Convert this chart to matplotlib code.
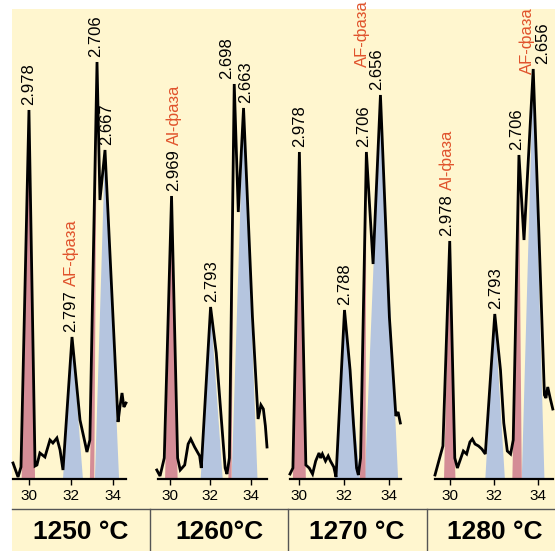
import matplotlib
matplotlib.use("Agg")
import matplotlib.pyplot as plt
from matplotlib.patches import Rectangle

# XRD fragments (2theta, intensity in arbitrary units)
temps = ["1250 °C", "1260°C", "1270 °C", "1280 °C"]

x1250 = [29.24, 29.48, 29.62, 30.00, 30.29, 30.38, 30.52, 30.76, 31.00, 31.14, 31.33, 31.48,
         31.62, 32.05, 32.43, 32.67, 32.76, 32.90, 33.24, 33.38, 33.62, 34.24, 34.33, 34.43,
         34.52, 34.62]
i1250 = [16, 2, 12, 369, 13, 14, 26, 22, 39, 36, 41, 29,
         9, 142, 59, 36, 27, 39, 417, 279, 329, 57, 72, 86,
         72, 76]

x1260 = [29.35, 29.51, 29.72, 30.08, 30.38, 30.51, 30.73, 30.90, 31.03, 31.22, 31.47, 31.55,
         32.01, 32.29, 32.53, 32.73, 32.82, 32.94, 33.18, 33.38, 33.64, 34.08, 34.36, 34.50,
         34.62, 34.72, 34.80]
i1260 = [9, 3, 21, 283, 21, 9, 14, 35, 40, 32, 23, 11,
         172, 126, 63, 11, 5, 21, 395, 267, 371, 162, 60, 74,
         70, 53, 32]

x1270 = [29.58, 29.71, 30.00, 30.29, 30.44, 30.59, 30.73, 30.88, 30.95, 31.03, 31.17, 31.29,
         31.39, 31.54, 31.64, 32.02, 32.27, 32.42, 32.56, 32.64, 32.74, 33.00, 33.30, 33.63,
         34.03, 34.32, 34.42, 34.52]
i1270 = [5, 11, 327, 14, 11, 5, 18, 26, 21, 25, 18, 23,
         18, 12, 2, 169, 109, 56, 11, 4, 21, 327, 215, 384,
         162, 63, 67, 56]

x1280 = [29.33, 29.54, 29.69, 30.00, 30.23, 30.35, 30.46, 30.62, 30.77, 30.92, 31.03, 31.15,
         31.31, 31.46, 31.62, 32.05, 32.31, 32.46, 32.62, 32.77, 32.89, 33.15, 33.38, 33.80,
         34.08, 34.31, 34.38, 34.46, 34.57, 34.69]
i1280 = [4, 21, 33, 238, 21, 11, 18, 28, 25, 37, 40, 35,
         33, 30, 25, 165, 109, 56, 28, 25, 39, 324, 239, 410,
         232, 84, 81, 92, 81, 70]

# peaks: position, intensity, d-spacing label, base of shaded triangle
peak_x_1250 = [30.00, 32.05, 33.24, 33.62]
peak_i_1250 = [369, 142, 417, 329]
peak_d_1250 = ["2.978", "2.797", "2.706", "2.667"]
base_lo_1250 = [29.65, 31.62, 32.90, 33.14]
base_hi_1250 = [30.29, 32.57, 33.11, 34.29]

peak_x_1260 = [30.08, 32.01, 33.18, 33.64]
peak_i_1260 = [283, 172, 395, 371]
peak_d_1260 = ["2.969", "2.793", "2.698", "2.663"]
base_lo_1260 = [29.76, 31.52, 32.89, 33.05]
base_hi_1260 = [30.38, 32.61, 33.05, 34.33]

peak_x_1270 = [30.00, 32.02, 33.00, 33.63]
peak_i_1270 = [327, 169, 327, 384]
peak_d_1270 = ["2.978", "2.788", "2.706", "2.656"]
base_lo_1270 = [29.71, 31.61, 32.71, 32.93]
base_hi_1270 = [30.29, 32.71, 32.96, 34.42]

peak_x_1280 = [30.00, 32.05, 33.15, 33.80]
peak_i_1280 = [238, 165, 324, 410]
peak_d_1280 = ["2.978", "2.793", "2.706", "2.656"]
base_lo_1280 = [29.74, 31.62, 32.85, 33.28]
base_hi_1280 = [30.26, 32.51, 33.28, 34.31]

peak_phase = ["pink", "blue", "pink", "blue"]

# phase captions: (panel, text, attached peak index or None, x, y)
phase_notes = [
    (0, "AF-фаза", 1, None, None),
    (1, "Al-фаза", 0, None, None),
    (2, "AF-фаза", None, 32.80, 412),
    (3, "Al-фаза", 0, None, None),
    (3, "AF-фаза", None, 33.52, 405),
]

# layout (pixels of the 555x551 picture)
W, H = 555, 551
BASE_Y, TOP_Y = 479, 9
panel_px = [(13, 126), (158, 267), (290, 401), (435, 553)]
panel_xlim = [(29.24, 34.62), (29.41, 34.80), (29.58, 34.55), (29.33, 34.70)]
label_dx = [[0.0, -0.05, -0.05, 0.10],
            [0.12, 0.05, -0.40, 0.12],
            [0.0, 0.0, -0.12, -0.16],
            [-0.12, 0.06, -0.12, 0.42]]
temp_cx = [81, 219, 357, 495]
cell_sep = [150, 288, 427]

CREAM = "#fff6cf"
PINK = "#d48d96"
BLUE = "#b5c5df"
RED = "#e0532c"
plt.rcParams["font.family"] = ["Liberation Sans", "DejaVu Sans"]

curves = [(x1250, i1250), (x1260, i1260), (x1270, i1270), (x1280, i1280)]
peaks = [
    (peak_x_1250, peak_i_1250, peak_d_1250, base_lo_1250, base_hi_1250),
    (peak_x_1260, peak_i_1260, peak_d_1260, base_lo_1260, base_hi_1260),
    (peak_x_1270, peak_i_1270, peak_d_1270, base_lo_1270, base_hi_1270),
    (peak_x_1280, peak_i_1280, peak_d_1280, base_lo_1280, base_hi_1280),
]

fig = plt.figure(figsize=(W / 100, H / 100), dpi=100)
fig.patch.set_facecolor("white")
fig.add_artist(Rectangle((12 / W, 0), 1, (H - TOP_Y) / H, transform=fig.transFigure,
                         facecolor=CREAM, edgecolor="none", zorder=0))

# label row frame
fig.add_artist(plt.Line2D([12 / W, 1], [(H - 509) / H] * 2, transform=fig.transFigure,
                          color="#555555", lw=1.0))
for sx in cell_sep:
    fig.add_artist(plt.Line2D([sx / W] * 2, [0, (H - 509) / H], transform=fig.transFigure,
                              color="#555555", lw=1.0))

text_objs = []
for k in range(4):
    l, r = panel_px[k]
    ax = fig.add_axes([l / W, (H - BASE_Y) / H, (r - l) / W, (BASE_Y - TOP_Y) / H])
    ax.patch.set_alpha(0)
    ax.set_xlim(*panel_xlim[k])
    ax.set_ylim(0, BASE_Y - TOP_Y)
    for s in ["top", "left", "right"]:
        ax.spines[s].set_visible(False)
    ax.spines["bottom"].set_linewidth(1.6)
    ax.set_yticks([])
    ax.set_xticks([30, 32, 34])
    ax.tick_params(axis="x", length=4, width=1, pad=3, labelsize=11)

    px, pi, pd, blo, bhi = peaks[k]
    # blue triangles first, pink on top
    for order in ["blue", "pink"]:
        for j in range(4):
            if peak_phase[j] != order:
                continue
            ax.fill([blo[j], px[j], bhi[j]], [0, pi[j], 0],
                    color=PINK if order == "pink" else BLUE, lw=0, zorder=1)
    cx, ci = curves[k]
    ax.plot(cx, ci, color="black", lw=2.0, zorder=3, clip_on=False,
            solid_joinstyle="miter")

    objs = []
    for j in range(4):
        t = ax.text(px[j] + label_dx[k][j], pi[j] + 5, pd[j], rotation=90,
                    ha="center", va="bottom", fontsize=12, clip_on=False)
        objs.append(t)
    text_objs.append((ax, objs))

    fig.text(temp_cx[k] / W, (H - 532) / H, temps[k], ha="center", va="center",
             fontsize=19, fontweight="bold")

for k, txt, j, x, y in phase_notes:
    ax, objs = text_objs[k]
    if j is not None:
        ax.annotate(txt, xy=(0.5, 1), xycoords=objs[j], xytext=(0, 3),
                    textcoords="offset points", rotation=90, ha="center", va="bottom",
                    fontsize=12, color=RED, annotation_clip=False)
    else:
        ax.text(x, y, txt, rotation=90, ha="center", va="bottom", fontsize=12,
                color=RED, clip_on=False)

fig.savefig("out.png", dpi=100)
